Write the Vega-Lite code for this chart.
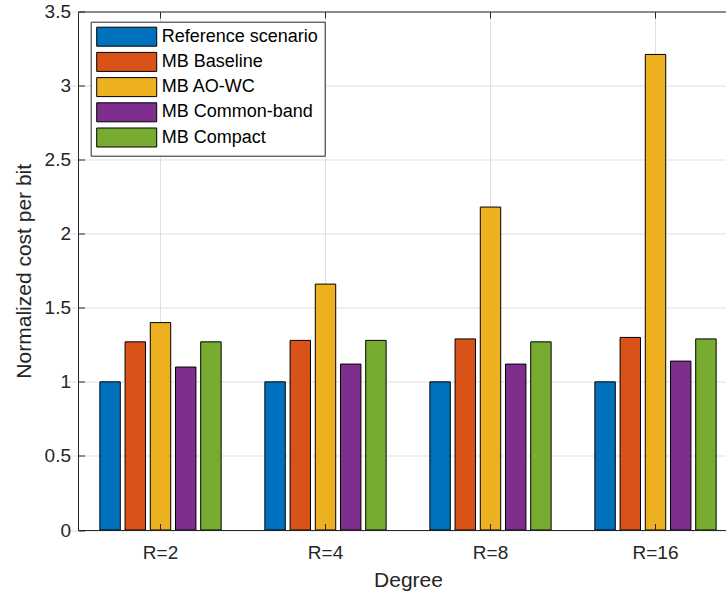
{
  "$schema": "https://vega.github.io/schema/vega-lite/v6.json",
  "autosize": {"type": "none"},
  "width": 648,
  "height": 518.5,
  "padding": {"left": 78, "top": 11.5, "right": 0, "bottom": 66},
  "background": "white",
  "config": {
    "font": "Liberation Sans",
    "view": {"stroke": null},
    "axis": {
      "labelFont": "Liberation Sans",
      "titleFont": "Liberation Sans",
      "labelColor": "#262626",
      "titleColor": "#262626",
      "domainColor": "#262626",
      "tickColor": "#262626",
      "gridColor": "#dfdfdf",
      "gridWidth": 1,
      "labelFontSize": 19,
      "titleFontSize": 21,
      "titleFontWeight": "normal"
    }
  },
  "data": {
    "values": [
      {"Degree": "R=2", "Scenario": "Reference scenario", "Cost": 1.00},
      {"Degree": "R=2", "Scenario": "MB Baseline", "Cost": 1.27},
      {"Degree": "R=2", "Scenario": "MB AO-WC", "Cost": 1.40},
      {"Degree": "R=2", "Scenario": "MB Common-band", "Cost": 1.10},
      {"Degree": "R=2", "Scenario": "MB Compact", "Cost": 1.27},
      {"Degree": "R=4", "Scenario": "Reference scenario", "Cost": 1.00},
      {"Degree": "R=4", "Scenario": "MB Baseline", "Cost": 1.28},
      {"Degree": "R=4", "Scenario": "MB AO-WC", "Cost": 1.66},
      {"Degree": "R=4", "Scenario": "MB Common-band", "Cost": 1.12},
      {"Degree": "R=4", "Scenario": "MB Compact", "Cost": 1.28},
      {"Degree": "R=8", "Scenario": "Reference scenario", "Cost": 1.00},
      {"Degree": "R=8", "Scenario": "MB Baseline", "Cost": 1.29},
      {"Degree": "R=8", "Scenario": "MB AO-WC", "Cost": 2.18},
      {"Degree": "R=8", "Scenario": "MB Common-band", "Cost": 1.12},
      {"Degree": "R=8", "Scenario": "MB Compact", "Cost": 1.27},
      {"Degree": "R=16", "Scenario": "Reference scenario", "Cost": 1.00},
      {"Degree": "R=16", "Scenario": "MB Baseline", "Cost": 1.30},
      {"Degree": "R=16", "Scenario": "MB AO-WC", "Cost": 3.21},
      {"Degree": "R=16", "Scenario": "MB Common-band", "Cost": 1.14},
      {"Degree": "R=16", "Scenario": "MB Compact", "Cost": 1.29}
    ]
  },
  "layer": [
    {
      "mark": {"type": "point", "opacity": 0},
      "encoding": {
        "x": {
          "field": "Degree", "type": "nominal", "sort": ["R=2", "R=4", "R=8", "R=16"],
          "scale": {"type": "band", "range": [0, 660], "paddingInner": 0, "paddingOuter": 0},
          "axis": {"orient": "top", "labels": false, "title": null, "grid": true, "domain": true, "ticks": true, "tickSize": -6.5, "zindex": 0}
        },
        "y": {
          "field": "Cost", "type": "quantitative",
          "scale": {"domain": [0, 3.5], "nice": false, "zero": true},
          "axis": {"orient": "right", "labels": false, "title": null, "grid": true, "domain": false, "ticks": false, "values": [0, 0.5, 1, 1.5, 2, 2.5, 3, 3.5], "zindex": 0}
        }
      }
    },
    {
      "mark": {"type": "bar", "stroke": "black", "strokeWidth": 1, "opacity": 1},
      "encoding": {
        "x": {
          "field": "Degree", "type": "nominal", "sort": ["R=2", "R=4", "R=8", "R=16"],
          "scale": {"type": "band", "range": [0, 660], "paddingInner": 0, "paddingOuter": 0},
          "axis": {"orient": "bottom", "title": "Degree", "labelAngle": 0, "grid": false, "tickSize": -6.5, "labelPadding": 20, "titlePadding": 7, "zindex": 1}
        },
        "xOffset": {
          "field": "Scenario", "type": "nominal",
          "sort": ["Reference scenario", "MB Baseline", "MB AO-WC", "MB Common-band", "MB Compact"],
          "scale": {"paddingInner": 0.19, "paddingOuter": 0.867}
        },
        "y": {
          "field": "Cost", "type": "quantitative",
          "axis": {"orient": "left", "title": "Normalized cost per bit", "grid": false, "tickSize": -6.5, "values": [0, 0.5, 1, 1.5, 2, 2.5, 3, 3.5], "format": "~g", "labelPadding": 14, "titlePadding": 10, "zindex": 1}
        },
        "color": {
          "field": "Scenario", "type": "nominal",
          "sort": ["Reference scenario", "MB Baseline", "MB AO-WC", "MB Common-band", "MB Compact"],
          "scale": {
            "domain": ["Reference scenario", "MB Baseline", "MB AO-WC", "MB Common-band", "MB Compact"],
            "range": ["#0072BD", "#D95319", "#EDB120", "#7E2F8E", "#77AC30"]
          },
          "legend": {
            "title": null,
            "orient": "none",
            "legendX": 12.7,
            "legendY": 10.2,
            "padding": 6,
            "fillColor": "white",
            "strokeColor": "#262626",
            "symbolType": "M-1.8,-1.9H10.2V1.9H-1.8Z",
            "symbolSize": 100,
            "symbolStrokeColor": "black",
            "symbolStrokeWidth": 1,
            "symbolOpacity": 1,
            "labelFont": "Liberation Sans",
            "labelFontSize": 18,
            "labelColor": "black",
            "labelOffset": 47,
            "labelLimit": 400,
            "rowPadding": 1.2
          }
        }
      }
    }
  ],
  "resolve": {"axis": {"x": "independent", "y": "independent"}}
}
